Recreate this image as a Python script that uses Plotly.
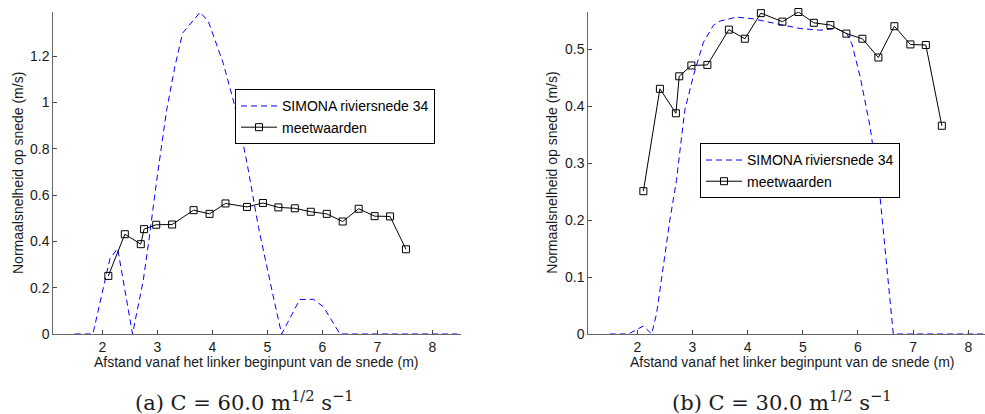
import plotly.graph_objects as go

# Measured values (same in both panels)
meet_x = [2.11, 2.41, 2.70, 2.76, 2.98, 3.27, 3.66, 3.95, 4.24, 4.63, 4.92, 5.20,
          5.50, 5.79, 6.08, 6.37, 6.66, 6.95, 7.23, 7.52]
meet_y = [0.251, 0.431, 0.388, 0.453, 0.472, 0.473, 0.535, 0.519, 0.564, 0.549, 0.566, 0.547,
          0.543, 0.528, 0.519, 0.486, 0.541, 0.509, 0.508, 0.366]

# SIMONA, C = 60
sim60_x = [1.5, 1.83, 2.14, 2.28, 2.55, 2.745, 2.84, 2.99, 3.17, 3.32, 3.46, 3.78, 3.93,
           4.2, 4.38, 4.51, 4.63, 4.84, 5.11, 5.26, 5.59, 5.84, 6.02, 6.32, 8.45]
sim60_y = [0, 0, 0.326, 0.369, 0, 0.232, 0.391, 0.665, 0.967, 1.155, 1.30, 1.39, 1.349,
           1.169, 1.011, 0.88, 0.74, 0.46, 0.16, 0, 0.149, 0.15, 0.117, 0, 0]

# SIMONA, C = 30
sim30_x = [1.5, 1.84, 2.11, 2.26, 2.35, 2.47, 2.59, 2.71, 2.86, 3.02, 3.20, 3.38, 3.5, 3.8,
           4.1, 4.59, 4.95, 5.31, 5.61, 5.80, 5.89, 6.04, 6.22, 6.40, 6.52, 6.64, 8.45]
sim30_y = [0, 0, 0.014, 0, 0.036, 0.118, 0.2, 0.27, 0.393, 0.455, 0.513, 0.5425, 0.55, 0.557,
           0.554, 0.544, 0.537, 0.534, 0.537, 0.528, 0.510, 0.452, 0.364, 0.241, 0.124, 0, 0]

x_ticks = [2, 3, 4, 5, 6, 7, 8]
y_ticks_a = [0, 0.2, 0.4, 0.6, 0.8, 1.0, 1.2]
y_ticks_b = [0, 0.1, 0.2, 0.3, 0.4, 0.5]

name_sim = "SIMONA riviersnede 34"
name_meet = "meetwaarden"
xlabel = "Afstand vanaf het linker beginpunt van de snede (m)"
ylabel = "Normaalsnelheid op snede (m/s)"
cap_a = "(a) C = 60.0 m<sup>1/2</sup> s<sup>−1</sup>"
cap_b = "(b) C = 30.0 m<sup>1/2</sup> s<sup>−1</sup>"

W, H = 985, 414
FONT = "Liberation Sans, Arial, sans-serif"
SERIF = "DejaVu Serif, serif"
blue = "#0000ff"
FS = 14

fig = go.Figure()
fig.add_trace(go.Scatter(x=sim60_x, y=sim60_y, mode="lines", name=name_sim,
                         line=dict(color=blue, width=1, dash="6px,4px"), cliponaxis=False,
                         xaxis="x", yaxis="y", legend="legend"))
fig.add_trace(go.Scatter(x=meet_x, y=meet_y, mode="lines+markers", name=name_meet,
                         line=dict(color="black", width=1), cliponaxis=False,
                         marker=dict(symbol="square-open", size=7, color="black",
                                     line=dict(width=1, color="black")),
                         xaxis="x", yaxis="y", legend="legend"))
fig.add_trace(go.Scatter(x=sim30_x, y=sim30_y, mode="lines", name=name_sim,
                         line=dict(color=blue, width=1, dash="6px,4px"), cliponaxis=False,
                         xaxis="x2", yaxis="y2", legend="legend2"))
fig.add_trace(go.Scatter(x=meet_x, y=meet_y, mode="lines+markers", name=name_meet,
                         line=dict(color="black", width=1), cliponaxis=False,
                         marker=dict(symbol="square-open", size=7, color="black",
                                     line=dict(width=1, color="black")),
                         xaxis="x2", yaxis="y2", legend="legend2"))

axis_common = dict(showgrid=False, zeroline=False, showline=True, linecolor="#666",
                   linewidth=1, ticks="inside", ticklen=4, tickcolor="#444",
                   tickfont=dict(family=FONT, size=FS, color="#1a1a1a"), mirror=False)

left_px, right_px = 53.3, 461.0
left2_px = 588.3
top_px, bot_px = 12.0, 333.7
ph = bot_px - top_px

fig.update_layout(
    width=W, height=H, paper_bgcolor="white", plot_bgcolor="white",
    margin=dict(l=0, r=0, t=top_px, b=H - bot_px),
    xaxis=dict(domain=[left_px / W, right_px / W], range=[1.11, 8.52],
               tickvals=x_ticks, anchor="y", **axis_common),
    yaxis=dict(domain=[0, 1], range=[0, 1.391], tickvals=y_ticks_a, anchor="x",
               **axis_common),
    xaxis2=dict(domain=[left2_px / W, 1.0], range=[1.112, 1.112 + (W - left2_px) / 55.17],
                tickvals=x_ticks, anchor="y2", **axis_common),
    yaxis2=dict(domain=[0, 1], range=[0, 0.566], tickvals=y_ticks_b, anchor="x2",
                **axis_common),
    legend=dict(x=235 / W, y=(bot_px - 89.3) / ph, xanchor="left",
                yanchor="top", bgcolor="white", bordercolor="black", borderwidth=1,
                font=dict(family=FONT, size=FS, color="black"), itemwidth=36,
                tracegroupgap=0),
    legend2=dict(x=700 / W, y=(bot_px - 143.3) / ph, xanchor="left",
                 yanchor="top", bgcolor="white", bordercolor="black", borderwidth=1,
                 font=dict(family=FONT, size=FS, color="black"), itemwidth=36,
                 tracegroupgap=0),
    showlegend=True,
)

lab_font = dict(family=FONT, size=FS, color="#1a1a1a")
cap_font = dict(family=SERIF, size=21, color="#1a1a1a")
annots = [
    dict(x=(93 + 420.7) / 2 / W, y=-(361.7 - bot_px) / ph, xref="paper", yref="paper",
         text=xlabel, showarrow=False, xanchor="center", yanchor="middle", font=lab_font),
    dict(x=(500 + (388 + 1368) / 6) / W, y=-(361.7 - bot_px) / ph, xref="paper",
         yref="paper", text=xlabel, showarrow=False, xanchor="center",
         yanchor="middle", font=lab_font),
    dict(x=18 / W, y=0.5, xref="paper", yref="paper", text=ylabel, textangle=-90,
         showarrow=False, xanchor="center", yanchor="middle", font=lab_font),
    dict(x=551.7 / W, y=0.5, xref="paper", yref="paper", text=ylabel, textangle=-90,
         showarrow=False, xanchor="center", yanchor="middle", font=lab_font),
    dict(x=244 / W, y=-(401 - bot_px) / ph, xref="paper", yref="paper", text=cap_a,
         showarrow=False, xanchor="center", yanchor="middle", font=cap_font),
    dict(x=781.7 / W, y=-(401 - bot_px) / ph, xref="paper", yref="paper", text=cap_b,
         showarrow=False, xanchor="center", yanchor="middle", font=cap_font),
]
fig.update_layout(annotations=annots)

fig.write_html("out.html")
